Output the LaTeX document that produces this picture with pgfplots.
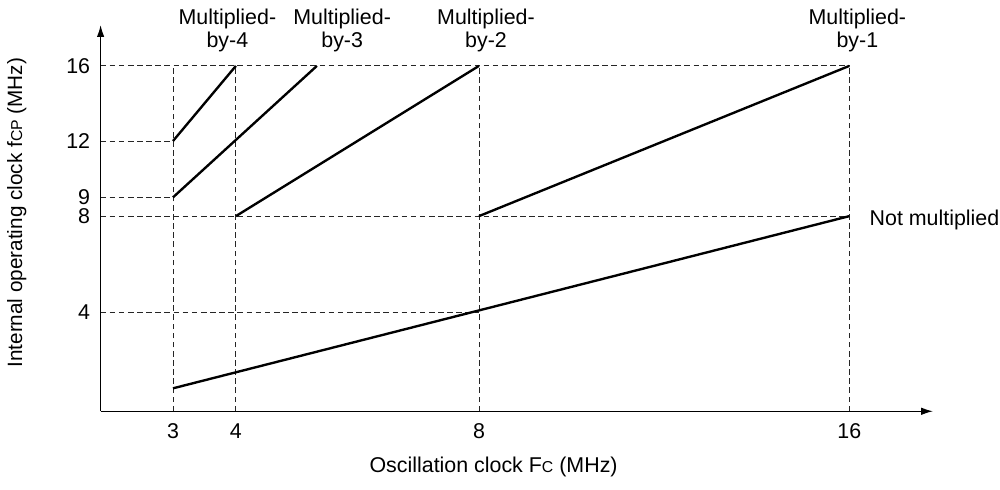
\documentclass[border=0pt]{standalone}
\usepackage{pgfplots}
\pgfplotsset{compat=1.18}
\usepackage{fontspec}
\setmainfont{Liberation Sans}
\usetikzlibrary{arrows.meta}
\newcommand{\smc}[1]{{\fontsize{9}{10}\selectfont #1}}
\begin{document}
\fontsize{12.2}{14}\selectfont
\begin{tikzpicture}
\begin{axis}[
  scale only axis,
  width=16.68cm, height=7.74cm,
  axis lines=left,
  axis line style={-{Latex[length=2.4mm,width=1.5mm]}, line width=0.8pt},
  x coord trafo/.code={\pgfmathparse{(#1<4) ? (171.5+(#1-3)*63) : ((#1<8) ? (234.5+(#1-4)*60.875) : (478+(#1-8)*46.375))}},
  y coord trafo/.code={\pgfmathparse{(#1<1.5) ? (#1*15.333) : ((#1<4) ? (23+(#1-1.5)*30.4) : ((#1<8) ? (99+(#1-4)*24.125) : (195.5+(#1-8)*18.8125)))}},
  xmin=1.849, xmax=17.81,
  ymin=0, ymax=18.18,
  xtick={3,4,8,16}, xticklabels={3,4,8,16},
  ytick={4,8,9,12,16}, yticklabels={4,8,9,12,16},
  major tick length=0pt,
  /pgf/number format/assume math mode=true,
  xticklabel style={yshift=-0.1cm},
  yticklabel style={xshift=-0.06cm},
  clip=false,
  every axis x label/.style={at={(axis description cs:0.472,-0.1447)}, anchor=center},
  every axis y label/.style={at={(axis description cs:-0.1007,0.514)}, anchor=center, rotate=90, font=\fontsize{11.8}{13}\selectfont},
  xlabel={Oscillation clock F\smc{C} (MHz)},
  ylabel={Internal operating clock f\smc{CP} (MHz)},
]
% guide lines
\addplot[black!85, line width=0.5pt, dash pattern=on 3.2pt off 2pt] coordinates {(3,0) (3,16)};
\addplot[black!85, line width=0.5pt, dash pattern=on 3.2pt off 2pt] coordinates {(4,0) (4,16)};
\addplot[black!85, line width=0.5pt, dash pattern=on 3.2pt off 2pt] coordinates {(8,0) (8,16)};
\addplot[black!85, line width=0.5pt, dash pattern=on 3.2pt off 2pt] coordinates {(16,0) (16,16)};
\addplot[black!85, line width=0.5pt, dash pattern=on 3.2pt off 2pt] coordinates {(1.849,16) (16,16)};
\addplot[black!85, line width=0.5pt, dash pattern=on 3.2pt off 2pt] coordinates {(1.849,12) (3,12)};
\addplot[black!85, line width=0.5pt, dash pattern=on 3.2pt off 2pt] coordinates {(1.849,9) (3,9)};
\addplot[black!85, line width=0.5pt, dash pattern=on 3.2pt off 2pt] coordinates {(1.849,8) (16,8)};
\addplot[black!85, line width=0.5pt, dash pattern=on 3.2pt off 2pt] coordinates {(1.849,4) (8,4)};
% characteristic lines
\addplot[black, line width=1.35pt] coordinates {(3,12) (4,16)};
\addplot[black, line width=1.35pt] coordinates {(3,9) (5.3333,16)};
\addplot[black, line width=1.35pt] coordinates {(4,8) (8,16)};
\addplot[black, line width=1.35pt] coordinates {(8,8) (16,16)};
\addplot[black, line width=1.35pt] coordinates {(3,1.5) (16,8)};
% labels
\node[anchor=base, yshift=0.82cm] at (axis cs:3.865,16) {Multiplied-};
\node[anchor=base, yshift=0.36cm] at (axis cs:3.865,16) {by-4};
\node[anchor=base, yshift=0.82cm] at (axis cs:5.749,16) {Multiplied-};
\node[anchor=base, yshift=0.36cm] at (axis cs:5.749,16) {by-3};
\node[anchor=base, yshift=0.82cm] at (axis cs:8.151,16) {Multiplied-};
\node[anchor=base, yshift=0.36cm] at (axis cs:8.151,16) {by-2};
\node[anchor=base, yshift=0.82cm] at (axis cs:16.173,16) {Multiplied-};
\node[anchor=base, yshift=0.36cm] at (axis cs:16.173,16) {by-1};
\node[anchor=west, inner sep=0pt, xshift=0.4cm, yshift=-0.07cm] at (axis cs:16,8) {Not multiplied};
\path (axis description cs:-0.1187,-0.2016) rectangle (axis description cs:1.0803,1.0646);
\end{axis}
\end{tikzpicture}
\end{document}
